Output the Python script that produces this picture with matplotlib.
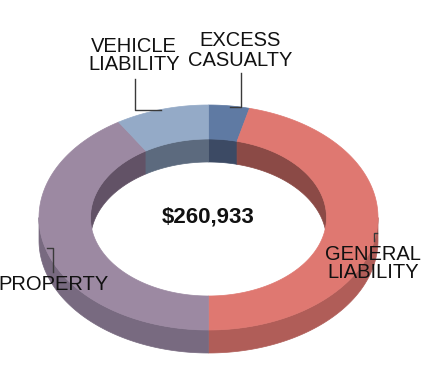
import numpy as np
import matplotlib
matplotlib.use("Agg")
import matplotlib.pyplot as plt
from matplotlib.patches import Polygon

# ---- data (clockwise from 12 o'clock) ----
categories = ["EXCESS\nCASUALTY", "GENERAL\nLIABILITY", "PROPERTY", "VEHICLE\nLIABILITY"]
values = [10150, 120320, 107270, 23193]
total_label = "$260,933"

top_colors = ["#5f7aa3", "#df7871", "#9c89a2", "#94aac7"]
inner_colors = ["#3c4a64", "#8b4a46", "#625266", "#5c6a7e"]
side_colors = ["#4a5f80", "#b05d58", "#786a80", "#74859c"]

W, H = 421, 367
fig = plt.figure(figsize=(W / 100, H / 100), dpi=100)
ax = fig.add_axes([0, 0, 1, 1])
ax.set_xlim(0, W)
ax.set_ylim(H, 0)
ax.axis("off")

cx, cy = 208.5, 217.5
rxo, ryo = 169.5, 112.5
rxi, ryi = 118.0, 78.5
depth = 23

def pts(rx, ry, th, dy=0.0):
    t = np.radians(th)
    return np.column_stack([cx + rx * np.sin(t), cy - ry * np.cos(t) + dy])

vals = np.array(values, dtype=float)
edges = np.concatenate([[0], np.cumsum(vals) / vals.sum() * 360])

def intersect(a0, a1, b0, b1):
    lo, hi = max(a0, b0), min(a1, b1)
    return (lo, hi) if hi > lo else None

# inner (back) walls
for i in range(len(vals)):
    a0, a1 = edges[i], edges[i + 1]
    for b0, b1 in [(-90, 90), (270, 450)]:
        r = intersect(a0, a1, b0, b1)
        if r:
            th = np.linspace(r[0], r[1], 100)
            p = np.vstack([pts(rxi, ryi, th), pts(rxi, ryi, th[::-1], depth)])
            ax.add_patch(Polygon(p, closed=True, fc=inner_colors[i], ec=inner_colors[i], lw=0.5))

# outer (front) walls
for i in range(len(vals)):
    a0, a1 = edges[i], edges[i + 1]
    r = intersect(a0, a1, 90, 270)
    if r:
        th = np.linspace(r[0], r[1], 150)
        p = np.vstack([pts(rxo, ryo, th), pts(rxo, ryo, th[::-1], depth)])
        ax.add_patch(Polygon(p, closed=True, fc=side_colors[i], ec=side_colors[i], lw=0.5))

# top faces
for i in range(len(vals)):
    a0, a1 = edges[i], edges[i + 1]
    th = np.linspace(a0, a1, 200)
    p = np.vstack([pts(rxo, ryo, th), pts(rxi, ryi, th[::-1])])
    ax.add_patch(Polygon(p, closed=True, fc=top_colors[i], ec=top_colors[i], lw=0.5))

font = "Liberation Sans"
lc = "#3a3a3a"
fs = 14.5

# labels
ax.text(240.5, 50.5, categories[0], ha="center", va="center", fontsize=fs,
        family=font, color="#111111", linespacing=1.0)
ax.text(373, 263.5, categories[1], ha="center", va="center", fontsize=fs,
        family=font, color="#111111", linespacing=1.0)
ax.text(54, 284.5, categories[2], ha="center", va="center", fontsize=fs,
        family=font, color="#111111")
ax.text(134, 55.5, categories[3], ha="center", va="center", fontsize=fs,
        family=font, color="#111111", linespacing=1.0)

ax.text(208.5, 217.5, total_label, ha="center", va="center", fontsize=16,
        family=font, weight="bold", color="#111111")

# leader lines
ax.plot([230, 241, 241], [106.5, 106.5, 73], color=lc, lw=1)
ax.plot([134.5, 134.5, 161], [79, 110, 110], color=lc, lw=1)
ax.plot([374, 374, 377], [241, 233, 233], color=lc, lw=1)
ax.plot([47, 53, 53], [248, 248, 272], color=lc, lw=1)

fig.savefig("out.png", dpi=100)
